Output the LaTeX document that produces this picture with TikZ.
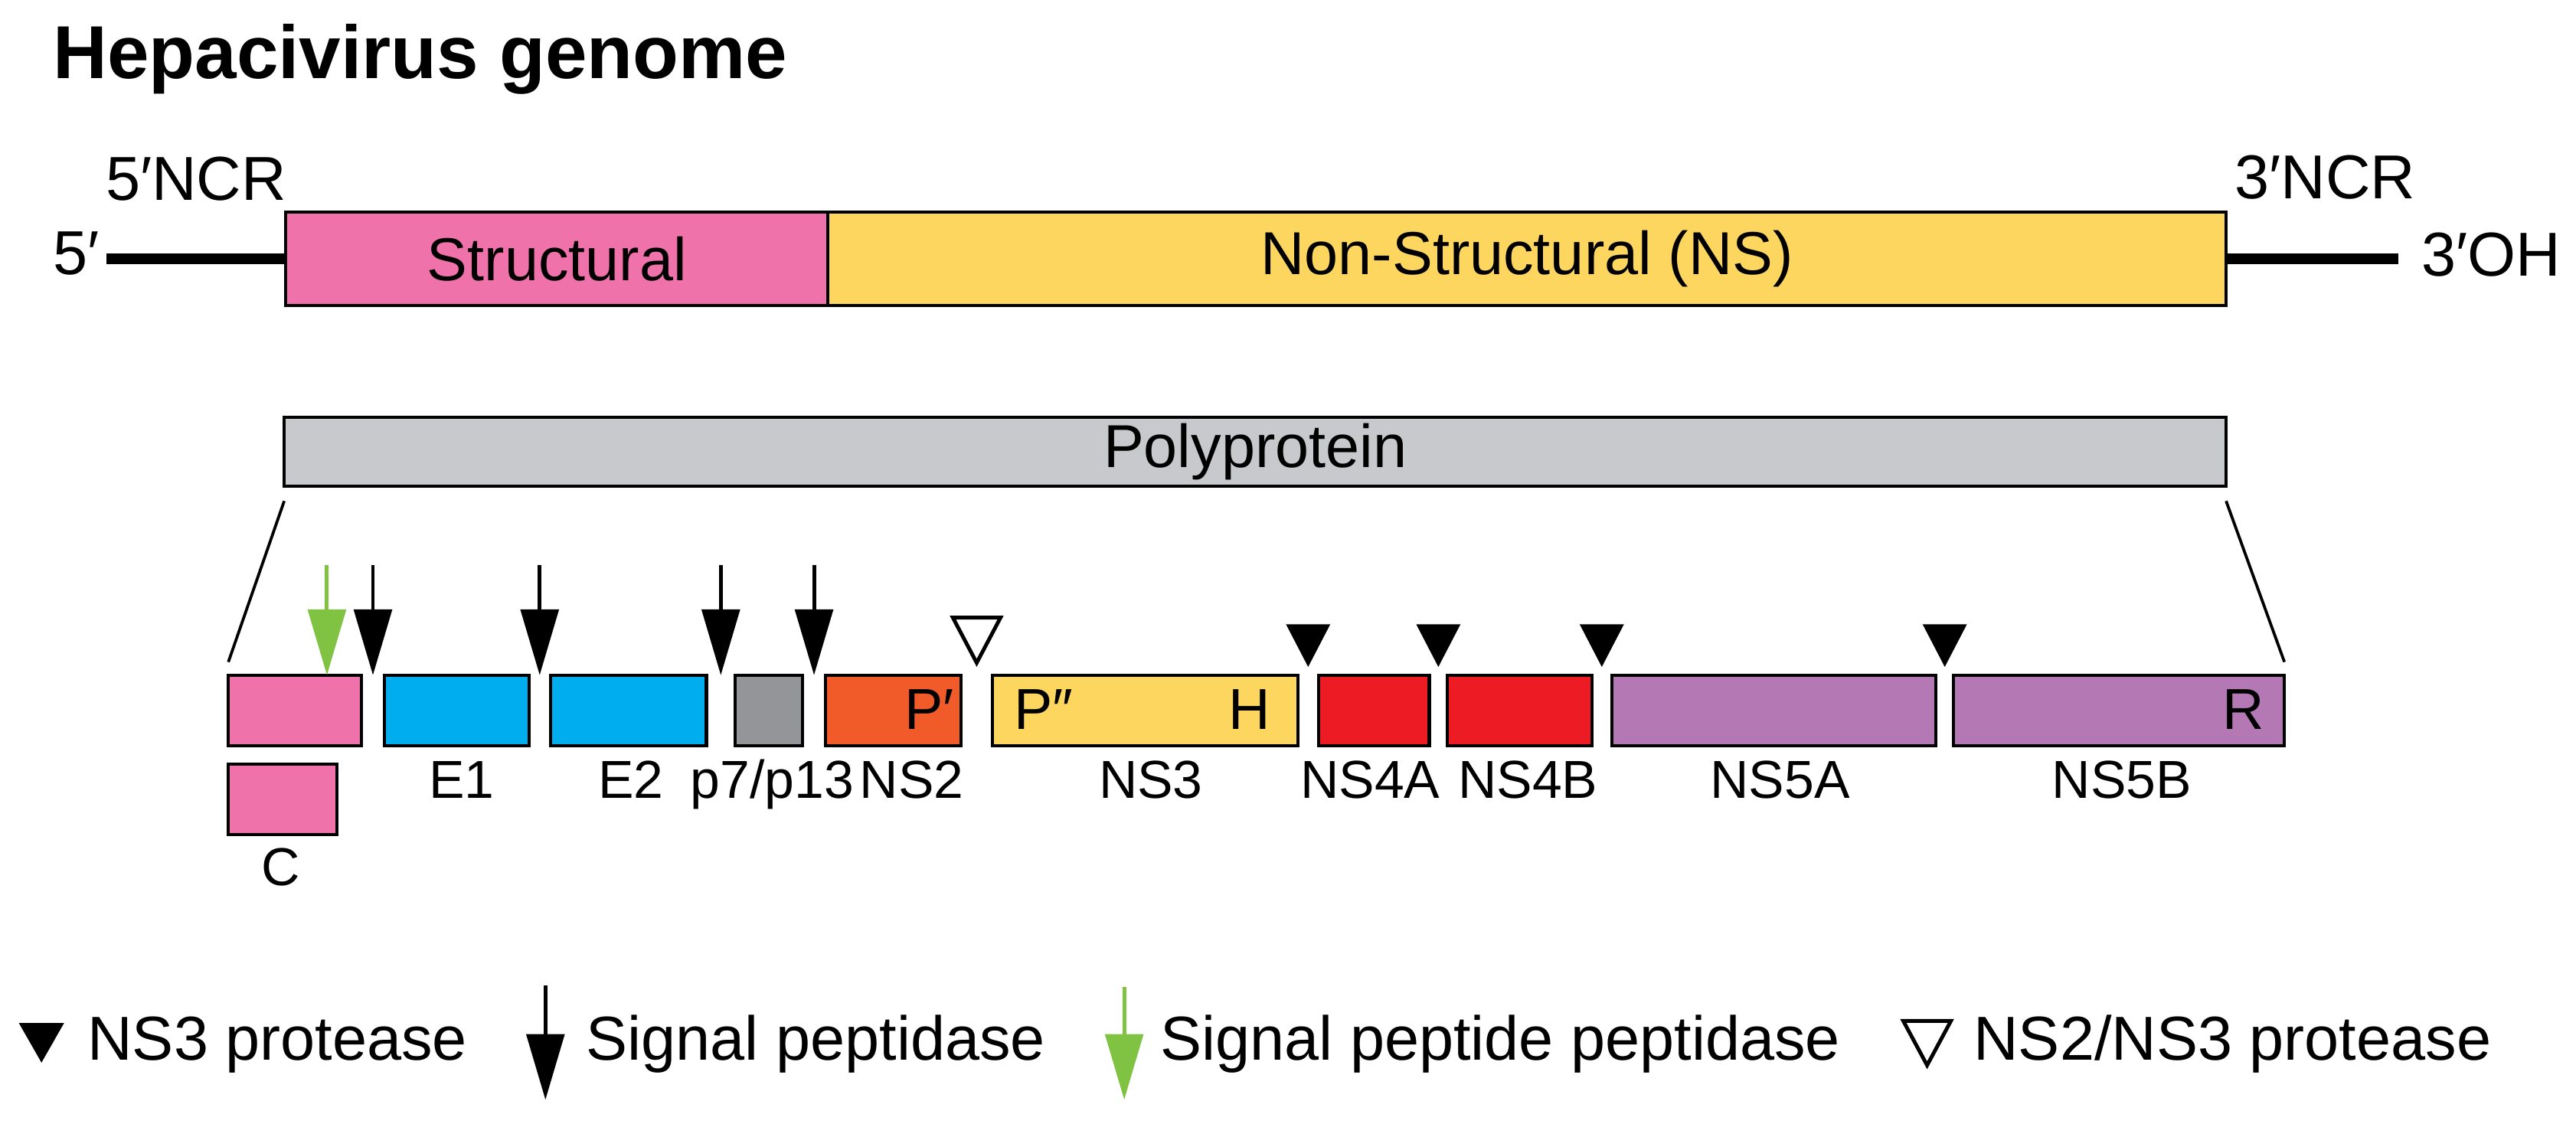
\documentclass[tikz,border=0pt]{standalone}
\usepackage{fontspec}
\setmainfont{Liberation Sans}
\usetikzlibrary{arrows.meta,positioning,calc}
\definecolor{structpink}{RGB}{240,114,170}
\definecolor{nsyellow}{RGB}{253,214,95}
\definecolor{polygray}{RGB}{200,201,204}
\definecolor{envblue}{RGB}{0,174,239}
\definecolor{pgray}{RGB}{147,149,152}
\definecolor{nstwo}{RGB}{241,90,41}
\definecolor{nsfour}{RGB}{237,28,36}
\definecolor{nsfive}{RGB}{180,120,180}
\definecolor{sppgreen}{RGB}{128,195,66}
\tikzset{
    %Define standard arrow tip
    >={Triangle[length=0.8cm,width=0.46cm]},
    %Define style for genome boxes
    gbox/.style={
           rectangle,
           draw=black, line width=1.1pt,
           inner sep=0pt, outer sep=0pt,
           minimum height=1.14cm,
           font=\fontsize{21}{25}\selectfont},
    %Define style for protein boxes
    pbox/.style={
           rectangle,
           draw=black, line width=1.1pt,
           inner sep=0pt, outer sep=0pt,
           minimum height=0.86cm},
    plabel/.style={anchor=base, inner sep=0pt, font=\fontsize{18.5}{22}\selectfont},
    ilabel/.style={inner sep=0pt, font=\fontsize{20}{24}\selectfont},
    txt/.style={anchor=base west, inner sep=0pt, font=\fontsize{21.5}{25}\selectfont},
    % Define arrow style
    pil/.style={->, line width=1.3pt},
    ns3cut/.style={fill=black},
    ns2cut/.style={fill=white, draw=black, line width=1.3pt}
}
\begin{document}
\begin{tikzpicture}
\useasboundingbox (0,0) rectangle (31.36,13.68);
 %title
\node[anchor=base west, inner sep=0pt, font=\bfseries\fontsize{26}{30}\selectfont] (title) at (0.64,12.72) {Hepacivirus genome};
 %genome
\node[gbox, fill=structpink, minimum width=6.6cm] (struct) at (6.78,10.53) {Structural};
\node[gbox, fill=nsyellow, minimum width=17.02cm, right=0pt of struct] (ns) {Non-Structural (NS)};
\coordinate (fivend) at (1.3,10.53);
\coordinate (threend) at (29.2,10.53);
\draw[line width=3.6pt] (fivend) -- (struct.west);
\draw[line width=3.6pt] (ns.east) -- (threend);
\node[txt] (five) at (0.64,10.34) {5′};
\node[txt] (fivencr) at (1.28,11.24) {5′NCR};
\node[txt] (threencr) at (27.2,11.26) {3′NCR};
\node[txt] (threeoh) at (29.47,10.32) {3′OH};
 %polyprotein
\node[gbox, fill=polygray, minimum width=23.64cm, minimum height=0.84cm] (poly) at (15.28,8.18) {Polyprotein};
 %cleavage products
\node[pbox, fill=structpink, minimum width=1.62cm] (cpro) at (3.59,5.03) {};
\node[pbox, fill=envblue, minimum width=1.76cm, right=0.28cm of cpro] (e1) {};
\node[pbox, fill=envblue, minimum width=1.9cm, right=0.26cm of e1] (e2) {};
\node[pbox, fill=pgray, minimum width=0.82cm, right=0.35cm of e2] (p7) {};
\node[pbox, fill=nstwo, minimum width=1.65cm, right=0.28cm of p7] (ns2) {};
\node[pbox, fill=nsyellow, minimum width=3.72cm, right=0.38cm of ns2] (ns3) {};
\node[pbox, fill=nsfour, minimum width=1.35cm, right=0.25cm of ns3] (ns4a) {};
\node[pbox, fill=nsfour, minimum width=1.76cm, right=0.22cm of ns4a] (ns4b) {};
\node[pbox, fill=nsfive, minimum width=3.95cm, right=0.24cm of ns4b] (ns5a) {};
\node[pbox, fill=nsfive, minimum width=4.03cm, right=0.21cm of ns5a] (ns5b) {};
\node[pbox, fill=structpink, minimum width=1.32cm, below=0.22cm of cpro.south west, anchor=north west] (cmat) {};
 %expansion lines
\draw[line width=1pt] ($(poly.south west)+(0,-0.18)$) -- ($(cpro.north west)+(0,0.16)$);
\draw[line width=1pt] ($(poly.south east)+(0,-0.18)$) -- ($(ns5b.north east)+(0,0.16)$);
 %labels
\node[plabel] (lc) at (3.42,2.9) {C};
\node[plabel] (le1) at (5.62,3.96) {E1};
\node[plabel] (le2) at (7.68,3.96) {E2};
\node[plabel] (lp7) at (9.4,3.96) {p7/p13};
\node[plabel] (lns2) at (11.1,3.96) {NS2};
\node[plabel] (lns3) at (14.01,3.96) {NS3};
\node[plabel] (lns4a) at (16.68,3.96) {NS4A};
\node[plabel] (lns4b) at (18.6,3.96) {NS4B};
\node[plabel] (lns5a) at (21.67,3.96) {NS5A};
\node[plabel] (lns5b) at (25.83,3.96) {NS5B};
\node[ilabel, anchor=base east] (pone) at (11.62,4.8) {P′};
\node[ilabel, anchor=base west] (ptwo) at (12.34,4.8) {P″};
\node[ilabel, anchor=base east] (hel) at (15.47,4.8) {H};
\node[ilabel, anchor=base east] (rdrp) at (27.57,4.8) {R};
 %cleavage sites
\coordinate (spp) at (3.98,5.46);
\draw[pil, sppgreen] ($(spp)+(0,1.34)$) -- (spp);
\foreach \a/\b in {cpro/e1, e1/e2, e2/p7, p7/ns2}
  \draw[pil] ($(\a.north east)!0.5!(\b.north west)+(0,1.34)$) -- ($(\a.north east)!0.5!(\b.north west)$);
\foreach \a/\b in {ns3/ns4a, ns4a/ns4b, ns4b/ns5a, ns5a/ns5b}
  \fill[ns3cut] ($(\a.north east)!0.5!(\b.north west)+(-0.27,0.62)$) -- ++(0.54,0) -- ++(-0.27,-0.52) -- cycle;
\draw[ns2cut] ($(ns2.north east)!0.5!(ns3.north west)+(-0.29,0.7)$) -- ++(0.58,0) -- ++(-0.29,-0.55) -- cycle;
 %legend
\node[txt] (legns3) at (1.06,0.774) {NS3 protease};
\node[txt] (legsp) at (7.13,0.774) {Signal peptidase};
\node[txt] (legspp) at (14.12,0.774) {Signal peptide peptidase};
\node[txt] (legns2) at (24.02,0.774) {NS2/NS3 protease};
\fill[ns3cut] (0.23,1.224) -- (0.78,1.224) -- (0.505,0.742) -- cycle;
\coordinate (spend) at (6.64,0.29);
\draw[pil] (6.64,1.68) -- (spend);
\coordinate (sppend) at (13.686,0.29);
\draw[pil, sppgreen] (13.686,1.66) -- (sppend);
\draw[ns2cut] (23.17,1.25) -- (23.75,1.25) -- (23.46,0.71) -- cycle;
\end{tikzpicture}
\end{document}
